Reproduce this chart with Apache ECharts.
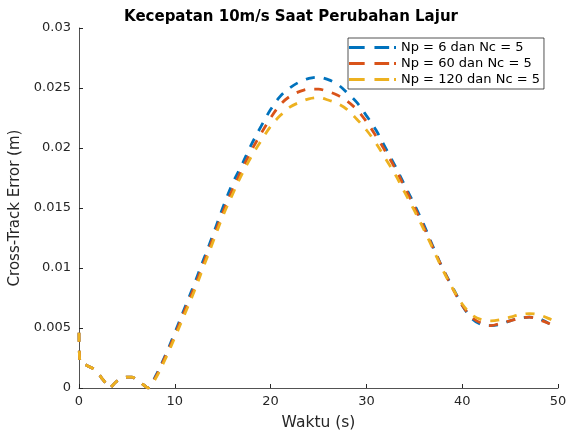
<!DOCTYPE html>
<html>
<head>
<meta charset="utf-8">
<script src="https://cdn.jsdelivr.net/npm/echarts@6/dist/echarts.min.js"></script>
<style>
  html, body { margin: 0; padding: 0; background: #fff; }
  #diagram { width: 570px; height: 434px; }
</style>
</head>
<body>
<div id="diagram"></div>
<script>
// waktu (s)
var waktu = [0, 0.1, 0.5, 1, 1.5, 2, 2.5, 3, 3.2, 3.6, 4, 4.5, 5, 5.5, 6, 6.5, 7, 7.2,
  8, 9, 10, 11, 12, 13, 14, 15, 16, 17, 18, 19, 20, 21, 22, 23, 24, 25, 26, 27, 28, 29,
  30, 31, 32, 33, 34, 35, 36, 37, 38, 39, 40, 41, 42, 43, 44, 45, 46, 47, 48, 49, 50];

// Np = 6 dan Nc = 5
var np6 = [0.0046, 0.0021, 0.0020, 0.0018, 0.0016, 0.0012, 0.0007, 0.0002, 0.0000, 0.0003, 0.0006, 0.0008, 0.0009, 0.0009, 0.0007, 0.0004, 0.0001, 0.0000,
  0.0010, 0.0027, 0.0046, 0.0066, 0.0086, 0.0107, 0.0128, 0.0150, 0.0170, 0.0186, 0.0203, 0.0218, 0.0232, 0.0243, 0.0250, 0.0255, 0.0258, 0.0259, 0.0257, 0.0253, 0.0246, 0.0238,
  0.0227, 0.0215, 0.0200, 0.0185, 0.0169, 0.0153, 0.0136, 0.0117, 0.0099, 0.0084, 0.0069, 0.0058, 0.0053, 0.0052, 0.0053, 0.0056, 0.0058, 0.0059, 0.0058, 0.0054, 0.0051];

// Np = 60 dan Nc = 5
var np60 = [0.0046, 0.0021, 0.0020, 0.0018, 0.0016, 0.0012, 0.0007, 0.0002, 0.0000, 0.0003, 0.0006, 0.0008, 0.0009, 0.0009, 0.0007, 0.0004, 0.0001, 0.0000,
  0.0009, 0.0026, 0.0044, 0.0064, 0.0083, 0.0104, 0.0125, 0.0146, 0.0165, 0.0182, 0.0198, 0.0212, 0.0225, 0.0236, 0.0243, 0.0247, 0.0249, 0.0249, 0.0247, 0.0244, 0.0239, 0.0232,
  0.0222, 0.0210, 0.0197, 0.0183, 0.0167, 0.0151, 0.0134, 0.0116, 0.0099, 0.0083, 0.0069, 0.0059, 0.0054, 0.0052, 0.0054, 0.0056, 0.0058, 0.0059, 0.0057, 0.0054, 0.0051];

// Np = 120 dan Nc = 5
var np120 = [0.0046, 0.0021, 0.0020, 0.0018, 0.0016, 0.0012, 0.0007, 0.0002, 0.0000, 0.0003, 0.0006, 0.0008, 0.0009, 0.0009, 0.0007, 0.0004, 0.0001, 0.0000,
  0.0008, 0.0024, 0.0042, 0.0061, 0.0080, 0.0101, 0.0122, 0.0143, 0.0161, 0.0178, 0.0193, 0.0206, 0.0218, 0.0227, 0.0234, 0.0238, 0.0241, 0.0242, 0.0240, 0.0237, 0.0232, 0.0224,
  0.0215, 0.0204, 0.0191, 0.0178, 0.0163, 0.0148, 0.0132, 0.0115, 0.0098, 0.0083, 0.0070, 0.0061, 0.0057, 0.0056, 0.0057, 0.0059, 0.0061, 0.0062, 0.0061, 0.0058, 0.0054];

var namaSeri = ['Np = 6 dan Nc = 5', 'Np = 60 dan Nc = 5', 'Np = 120 dan Nc = 5'];
var warna = ['#0072BD', '#D95319', '#EDB120'];

function pasangkan(nilai) {
  return waktu.map(function (t, i) { return [t, nilai[i]]; });
}

var myChart = echarts.init(document.getElementById('diagram'));
var font = 'DejaVu Sans';
var abu = '#262626';
// ikon legenda: garis putus-putus ala MATLAB
var ikonPutus = 'path://M0,0H16V3H0Z M26,0H41V3H26Z M46,0H48V3H46Z';

var seri = [np6, np60, np120].map(function (nilai, i) {
  return {
    name: namaSeri[i],
    type: 'line',
    data: pasangkan(nilai),
    smooth: 0.35,
    symbol: 'none',
    color: warna[i],
    lineStyle: { width: 2.8, type: [9, 9], color: warna[i] }
  };
});

var option = {
  animation: false,
  backgroundColor: '#fff',
  textStyle: { fontFamily: font },
  title: {
    text: 'Kecepatan 10m/s Saat Perubahan Lajur',
    left: 286,
    textAlign: 'center',
    top: 5,
    textStyle: { fontFamily: font, fontSize: 15, fontWeight: 'bold', color: '#000' }
  },
  legend: {
    orient: 'vertical',
    left: 348,
    top: 38,
    padding: [3, 4, 3, 1],
    itemGap: 3,
    itemWidth: 47,
    itemHeight: 14,
    icon: ikonPutus,
    backgroundColor: '#fff',
    borderColor: abu,
    borderWidth: 0.8,
    data: namaSeri,
    textStyle: { fontFamily: font, fontSize: 13, color: '#000' }
  },
  grid: { left: 79, right: 12, top: 28, bottom: 46, outerBoundsMode: 'none' },
  xAxis: {
    type: 'value',
    min: 0, max: 50, interval: 10,
    name: 'Waktu (s)',
    nameLocation: 'middle',
    nameGap: 27,
    nameTextStyle: { fontFamily: font, fontSize: 15.5, color: abu },
    axisLine: { lineStyle: { color: abu, width: 0.8 } },
    axisTick: { inside: true, length: 4, lineStyle: { color: abu } },
    axisLabel: { fontFamily: font, fontSize: 13, color: abu, margin: 7 },
    splitLine: { show: false }
  },
  yAxis: {
    type: 'value',
    min: 0, max: 0.03, interval: 0.005,
    name: 'Cross-Track Error (m)',
    nameLocation: 'middle',
    nameGap: 52,
    nameTextStyle: { fontFamily: font, fontSize: 15, color: abu },
    axisLine: { show: true, lineStyle: { color: abu, width: 0.8 } },
    axisTick: { show: true, inside: true, length: 4, lineStyle: { color: abu } },
    axisLabel: { fontFamily: font, fontSize: 13, color: abu, margin: 8 },
    splitLine: { show: false }
  },
  series: seri
};

myChart.setOption(option);
</script>
</body>
</html>
